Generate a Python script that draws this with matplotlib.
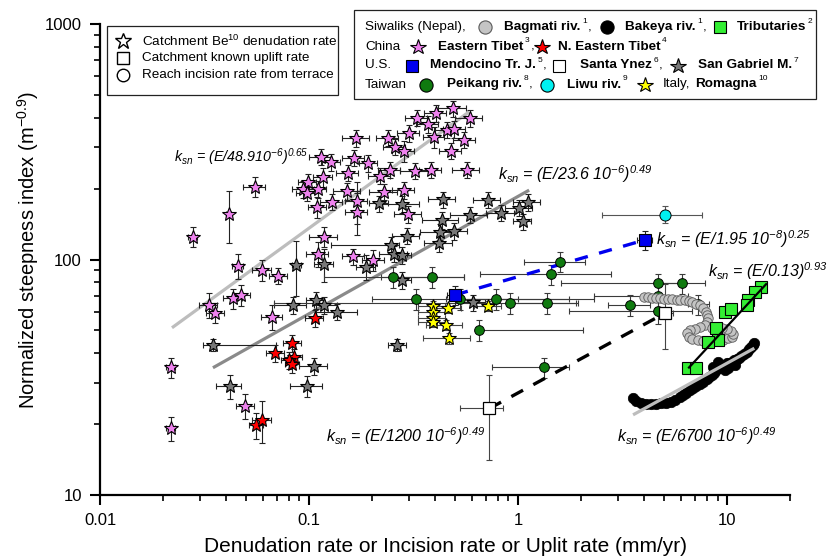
import numpy as np
import matplotlib
matplotlib.use('Agg')
import matplotlib.pyplot as plt
from matplotlib.lines import Line2D
from matplotlib.patches import Rectangle
from matplotlib import ticker

plt.rcParams['font.family'] = ['Liberation Sans', 'DejaVu Sans']
plt.rcParams['mathtext.fontset'] = 'custom'
plt.rcParams['mathtext.rm'] = 'Liberation Sans'
plt.rcParams['mathtext.it'] = 'Liberation Sans:italic'
plt.rcParams['mathtext.bf'] = 'Liberation Sans:bold'
plt.rcParams['mathtext.default'] = 'regular'

# ---------------- data ----------------
# Eastern Tibet (pink stars)
pink_x = [0.0278,0.0412,0.055,0.0456,0.0596,0.0712, 0.1136,0.128,0.1165,0.0987,0.0938,0.0981,0.110,0.1095,0.1286,0.1525,
          0.1684,0.164,0.1923,0.1535,0.169,0.169,0.2285,0.2178,0.2388,0.258, 0.1178,0.110,0.163,0.2032,
          0.4895,0.4044,0.328,0.369,0.5866,0.4565,0.495,0.397,0.301,0.5527,0.477,
          0.285,0.244,0.3217,0.3826,0.5675,0.285,0.299, 0.0331,0.0356,0.0433,0.0475,0.0666,0.0218,0.0496,0.0218]
pink_y = [125,156,204,94.1,90.2,85.3, 273,259,223,213,199,192,199,167,176,195,
          327,271,256,234,177,159,194,227,329,301, 125,106,103,99.5,
          438,418,400,375,398,355,357,332,344,322,289,
          289,240,238,240,240,197,156, 64.1,59.5,68.4,70.7,57.2,34.8,23.9,19.2]
pink_xe = [0.05,0.03,0.12,0.06,0.1,0.1, 0.12,0.1,0.1,0.1,0.12,0.12,0.1,0.1,0.12,0.15,
           0.15,0.12,0.1,0.12,0.12,0.12,0.15,0.12,0.12,0.12, 0.15,0.12,0.12,0.12,
           0.15,0.12,0.12,0.12,0.15,0.12,0.12,0.12,0.12,0.12,0.12,
           0.12,0.12,0.15,0.12,0.15,0.12,0.15, 0.1,0.1,0.1,0.1,0.12,0.05,0.1,0.05]
pink_ye = [0.1,0.25,0.1,0.12,0.1,0.08, 0.08,0.08,0.1,0.08,0.08,0.08,0.08,0.1,0.08,0.08,
           0.08,0.08,0.08,0.08,0.2,0.2,0.08,0.08,0.08,0.08, 0.1,0.12,0.08,0.1,
           0.08,0.08,0.08,0.08,0.08,0.08,0.08,0.1,0.08,0.08,0.08,
           0.1,0.08,0.08,0.08,0.08,0.08,0.08, 0.12,0.1,0.1,0.1,0.12,0.1,0.12,0.12]

# San Gabriel M. (grey stars)
grey_x = [0.0347,0.0417,0.0840,0.1074,0.1178,0.1355,0.1055,0.098,0.265,0.0868,0.1178,0.1873,0.216,0.246,0.255,0.28,
          0.28,0.2935,0.28,0.424,0.432,0.4355,0.419,0.493,0.590,0.606,0.716,0.829,1.015,1.113,1.053]
grey_y = [43.4,29.0,64.1,67.3,64.1,60.0,35.3,29.0,43.4,94.8,95.4,93.2,173,115,106,104.5,
          172,126,81.8,131,147,180,117,132,155,65.7,179,158,166,175,145]
grey_xlo = [0.1,0.14,0.19,0.1,0.1,0.2,0.15,0.17,0.1,0.05,0.1,0.1,0.1,0.48,0.15,0.1,
            0.2,0.15,0.1,0.2,0.2,0.15,0.15,0.15,0.2,0.15,0.15,0.15,0.15,0.15,0.1]
grey_xhi = [1.0,0.13,0.15,0.1,0.15,0.25,0.15,0.18,0.1,0.05,0.1,0.1,0.1,0.1,0.15,0.1,
            0.2,0.15,0.1,0.2,0.2,0.15,0.15,0.15,0.2,0.15,0.15,0.15,0.15,0.15,0.1]
grey_ye = [0.06,0.12,0.08,0.08,0.08,0.08,0.08,0.1,0.06,0.26,0.16,0.12,0.08,0.08,0.08,0.08,
           0.08,0.08,0.08,0.08,0.08,0.08,0.08,0.08,0.08,0.08,0.08,0.08,0.08,0.08,0.08]

# N. Eastern Tibet (red stars)
red_x = [0.0691,0.0831,0.0846,0.080,0.0831,0.056,0.0596,0.1066]
red_y = [40.0,44.1,38.7,37.4,36.0,19.8,20.8,56.3]
red_xe = [0.1,0.1,0.1,0.08,0.08,0.08,0.1,0.1]
red_ye = [0.08,0.08,0.08,0.08,0.08,0.13,0.2,0.08]

# Romagna (yellow stars)
yel_x = [0.39,0.39,0.39,0.391,0.464,0.722,0.4515,0.4693]
yel_y = [63.5,59.6,56.3,54.3,62.1,63.5,52.7,46.3]
yel_xe = [0.15,0.15,0.15,0.15,0.15,0.15,0.2,0.25]
yel_ye = [0.05,0.05,0.05,0.05,0.05,0.05,0.05,0.05]

# Peikang riv. (green circles)
pk_x = [0.253,0.387,0.324,0.529,0.785,0.919,1.377,1.59,1.44,0.652,1.337,3.42,4.68,6.10,4.68,7.28,4.68]
pk_y = [84.5,84.5,68.0,68.0,68.0,65.2,65.2,97.9,86.5,50.2,34.8,64.1,79.2,79.2,70.0,64.5,60.4]
pk_xlo = [0.118,0.22,0.2,0.45,0.6,0.068,0.95,1.07,0.66,0.652,0.75,2.7,1.6,4.68,2.3,6.5,1.75]
pk_xhi = [0.55,0.55,1.0,2.3,1.75,1.94,1.9,2.1,2.77,2.04,1.75,4.3,6.0,7.8,6.5,8.2,6.8]
pk_ye = [0.1,0.1,0.1,0.1,0.1,0.1,0.1,0.1,0.1,0.1,0.1,0.1,0.1,0.1,0.1,0.1,0.12]

# Liwu riv. (cyan)
cy_x = [5.03]; cy_y = [155]; cy_xlo = [2.52]; cy_xhi = [7.55]; cy_ylo = [143]; cy_yhi = [168]

# Mendocino (blue squares)
bl_x = [0.499, 4.03]; bl_y = [70.7, 121]; bl_xe = [0.08, 0.08]; bl_ye = [0.09, 0.09]

# Santa Ynez (white squares)
wt_x = [0.729, 5.03]; wt_y = [23.3, 59.1]
wt_xlo = [0.53, 4.6]; wt_xhi = [0.85, 5.5]; wt_ylo = [14.1, 41.6]; wt_yhi = [32.3, 79.0]

# Tributaries (green squares)
trib_x = [14.6,13.6,12.6,12.5,9.76,10.4,8.81,9.07,8.13,6.52,7.14]
trib_y = [76.6,73.0,67.3,64.1,60.0,61.7,51.0,45.5,44.8,34.5,34.5]

# Bagmati riv. (grey circle chain)
bag_x = [4.02,4.20,4.39,4.59,4.80,5.01,5.24,5.48,5.73,5.98,6.26,6.54,6.83,7.14,7.42,7.67,7.89,8.02,8.11,8.06,
         7.80,7.46,7.06,6.68,6.46,6.54,6.83,7.22,7.63,8.06,8.52,9.00,9.51,10.06,10.5,10.7,10.4,9.95,9.41,8.90,8.43]
bag_y = [69.3,69.0,68.8,68.6,68.4,68.2,68.0,67.7,67.5,67.3,67.0,66.9,66.0,65.0,63.8,62.1,60.1,58.1,56.2,54.3,
         52.7,51.7,50.9,50.2,48.7,47.1,46.0,45.4,45.2,45.1,45.2,45.4,45.6,46.2,47.1,48.5,49.9,50.8,51.2,51.3,51.2]

# Bakeya riv. (black circle chain)
bak_x = [3.55,3.68,3.89,4.11,4.34,4.59,4.85,5.13,5.42,5.66,5.94,6.17,6.39,6.63,6.88,7.14,7.40,7.69,7.98,8.20,
         8.43,8.66,8.90,9.15,9.41,9.67,9.95,10.2,10.5,10.8,11.1,11.4,11.7,12.1,12.4,12.8,13.0,13.3,13.5,
         8.59,9.07,9.76,10.1,10.9]
bak_y = [25.7,25.1,24.7,24.4,24.3,24.3,24.5,24.7,24.9,25.4,26.0,26.6,27.2,27.8,28.4,29.0,29.6,30.3,31.0,31.7,
         32.3,33.1,34.0,34.6,35.3,35.8,36.2,36.5,36.8,37.3,37.7,38.3,38.9,39.7,40.6,41.5,42.4,43.2,44.1,
         35.1,36.8,34.0,34.5,35.6]

# fitted relations: end points (x0, y0, x1, y1)
fit_A = (0.0221, 51.3, 0.584, 424)    # (E/48.9e-6)^0.65
fit_B = (0.0347, 34.7, 1.13, 197)     # (E/23.6e-6)^0.49
fit_C = (0.499, 70.7, 4.03, 121)      # (E/1.95e-8)^0.25
fit_D = (6.52, 34.5, 15.5, 79.2)      # (E/0.13)^0.93
fit_E = (0.729, 23.3, 5.03, 59.1)     # (E/1200e-6)^0.49
fit_F = (3.55, 21.9, 13.5, 42.0)      # (E/6700e-6)^0.49

# ---------------- figure ----------------
W, H = 836, 558
fig = plt.figure(figsize=(W/100, H/100), dpi=100)
ax = fig.add_axes([100/W, 1-495/H, 690/W, 471/H])
ax.set_xscale('log'); ax.set_yscale('log')
ax.set_xlim(0.01, 20); ax.set_ylim(10, 1000)
for s in ['top', 'right']:
    ax.spines[s].set_visible(False)
for s in ['left', 'bottom']:
    ax.spines[s].set_linewidth(1.6)
ax.tick_params(which='major', length=7.5, width=1.5, direction='out', labelsize=12, pad=5.5)
ax.tick_params(which='minor', length=4, width=1.2, direction='out')
fmt = ticker.FuncFormatter(lambda v, p: f'{v:g}')
ax.xaxis.set_major_formatter(fmt); ax.yaxis.set_major_formatter(fmt)
ax.xaxis.set_minor_formatter(ticker.NullFormatter()); ax.yaxis.set_minor_formatter(ticker.NullFormatter())

def fline(p, **kw):
    ax.plot([p[0], p[2]], [p[1], p[3]], solid_capstyle='butt', **kw)

def eb_frac(x, y, xlo, xhi, ylo, yhi, color='k', z=2):
    x = np.asarray(x, float); y = np.asarray(y, float)
    ax.errorbar(x, y, xerr=[x*np.asarray(xlo), x*np.asarray(xhi)],
                yerr=[y*np.asarray(ylo), y*np.asarray(yhi)], fmt='none', ecolor=color,
                elinewidth=0.8, capsize=2.5, capthick=0.8, zorder=z)

def eb_abs(x, y, xlo, xhi, ylo, yhi, color='k', z=2):
    x = np.asarray(x, float); y = np.asarray(y, float)
    xe = [np.clip(x-np.asarray(xlo), 0, None), np.clip(np.asarray(xhi)-x, 0, None)]
    ye = [np.clip(y-np.asarray(ylo), 0, None), np.clip(np.asarray(yhi)-y, 0, None)]
    ax.errorbar(x, y, xerr=xe, yerr=ye, fmt='none', ecolor=color,
                elinewidth=0.8, capsize=2.5, capthick=0.8, zorder=z)

# lines behind the stars
fline(fit_A, color='#bdbdbd', lw=2.3, zorder=1.5)
fline(fit_B, color='#8a8a8a', lw=2.3, zorder=1.5)

# error bars
eb_frac(pink_x, pink_y, pink_xe, pink_xe, pink_ye, pink_ye, color='#222222')
eb_frac(grey_x, grey_y, grey_xlo, grey_xhi, grey_ye, grey_ye, color='#222222')
eb_frac(red_x, red_y, red_xe, red_xe, red_ye, red_ye, color='#222222')
eb_frac(yel_x, yel_y, yel_xe, yel_xe, yel_ye, yel_ye, color='#444444')
pk_ylo = [y*(1-e) for y, e in zip(pk_y, pk_ye)]
pk_yhi = [y*(1+e) for y, e in zip(pk_y, pk_ye)]
eb_abs(pk_x, pk_y, pk_xlo, pk_xhi, pk_ylo, pk_yhi, color='#3a3a3a')
eb_abs(cy_x, cy_y, cy_xlo, cy_xhi, cy_ylo, cy_yhi, color='#555555')
eb_frac(bl_x, bl_y, bl_xe, bl_xe, bl_ye, bl_ye, color='#222222')
eb_abs(wt_x, wt_y, wt_xlo, wt_xhi, wt_ylo, wt_yhi, color='#444444')

# dashed relations
fline(fit_C, color='#0000ee', lw=2.4, ls=(0, (4, 3.5)), zorder=3)
fline(fit_E, color='k', lw=2.4, ls=(0, (4, 3.5)), zorder=3)

star = dict(ls='none', marker='*', ms=10.5, mec='k', mew=0.8, zorder=4)
ax.plot(pink_x, pink_y, mfc='#ee82ee', **star)
ax.plot(grey_x, grey_y, mfc='#787878', **star)
ax.plot(red_x, red_y, mfc='#ff0000', **star)
ax.plot(yel_x, yel_y, mfc='#ffff00', **star)
ax.plot(pk_x, pk_y, ls='none', marker='o', ms=7, mfc='#0f7a0f', mec='k', mew=0.7, zorder=4)
ax.plot(cy_x, cy_y, ls='none', marker='o', ms=8, mfc='#00f0f0', mec='k', mew=0.7, zorder=4)
ax.plot(bag_x, bag_y, ls='none', marker='o', ms=6.8, mfc='#c4c4c4', mec='#5a5a5a', mew=0.6, zorder=4.5)
ax.plot(bak_x, bak_y, ls='none', marker='o', ms=7.5, mfc='k', mec='k', mew=0.5, zorder=4.5)
ax.plot(trib_x, trib_y, ls='none', marker='s', ms=9, mfc='#33ee33', mec='k', mew=0.8, zorder=5)
ax.plot(bl_x, bl_y, ls='none', marker='s', ms=9, mfc='#0000ee', mec='k', mew=0.8, zorder=5)
ax.plot(wt_x, wt_y, ls='none', marker='s', ms=9, mfc='white', mec='k', mew=0.9, zorder=5)

# lines over markers
fline(fit_D, color='k', lw=1.6, zorder=6)
fline(fit_F, color='#bdbdbd', lw=2.3, zorder=6)

# ---------------- texts ----------------
def ftxt(x, y, s, **kw):
    return fig.text(x/W, 1-y/H, s, **kw)

eqkw = dict(fontstyle='italic', ha='left', va='baseline')
ftxt(174, 162.5, r'$k_{sn}$ = (E/48.910$^{-6}$)$^{0.65}$', fontsize=10.3, **eqkw)
ftxt(498, 180, r'$k_{sn}$ = (E/23.6 10$^{-6}$)$^{0.49}$', fontsize=11.5, **eqkw)
ftxt(656, 244.5, r'$k_{sn}$ = (E/1.95 10$^{-8}$)$^{0.25}$', fontsize=11.5, **eqkw)
ftxt(708, 277.5, r'$k_{sn}$ = (E/0.13)$^{0.93}$', fontsize=11.5, **eqkw)
ftxt(326, 442, r'$k_{sn}$ = (E/1200 10$^{-6}$)$^{0.49}$', fontsize=11.5, **eqkw)
ftxt(617, 442, r'$k_{sn}$ = (E/6700 10$^{-6}$)$^{0.49}$', fontsize=11.5, **eqkw)

ftxt(445, 546, 'Denudation rate or Incision rate or Uplit rate (mm/yr)', fontsize=15, ha='center', va='center')
ftxt(28, 250, r'Normalized steepness index (m$^{-0.9}$)', fontsize=14.5, ha='center', va='center', rotation=90)

# ---------------- legend boxes ----------------
def box(x0, y0, x1, y1):
    fig.add_artist(Rectangle((x0/W, 1-y1/H), (x1-x0)/W, (y1-y0)/H, transform=fig.transFigure,
                             fill=True, facecolor='white', edgecolor='#222222', lw=0.9, zorder=10))

def mk(x, y, m, fc, ec, ms, mew=0.8):
    fig.add_artist(Line2D([x/W], [1-y/H], transform=fig.transFigure, marker=m, ms=ms, mfc=fc,
                          mec=ec, mew=mew, ls='none', zorder=11))

box(107, 26, 338, 95)
mk(123, 41, '*', 'white', 'k', 12, 1.0)
mk(123, 58, 's', 'white', 'k', 8.5, 1.0)
mk(123, 75, 'o', 'white', 'k', 9, 1.0)
lkw = dict(fontsize=9.7, ha='left', va='center', zorder=11)
ftxt(142, 41, r'Catchment Be$^{10}$ denudation rate', **lkw)
ftxt(142, 58, 'Catchment known uplift rate', **lkw)
ftxt(142, 75, 'Reach incision rate from terrace', **lkw)

box(354, 10, 816, 99)
fig.canvas.draw()
R = fig.canvas.get_renderer()

def row(y, items):
    cur = None
    for it in items:
        kind = it[0]
        if kind == 't':
            x = it[3] if it[3] is not None else cur + 1
            t = ftxt(x, y, it[1], fontsize=9.7, fontweight=it[2], ha='left', va='center', zorder=11)
            cur = t.get_window_extent(renderer=R).x1
        elif kind == 's':
            t = ftxt(cur + 1.5, y - 5.5, it[1], fontsize=6, ha='left', va='center', zorder=11)
            cur = t.get_window_extent(renderer=R).x1
        elif kind == 'm':
            mk(it[4], y, it[1], it[2], it[3], it[5])

row(27, [('t', 'Siwaliks (Nepal),', 'normal', 365),
         ('m', 'o', '#c4c4c4', '#5a5a5a', 485, 9.5),
         ('t', 'Bagmati riv.', 'bold', 504), ('s', '1'), ('t', ',', 'normal', None),
         ('m', 'o', 'k', 'k', 607, 9.5),
         ('t', 'Bakeya riv.', 'bold', 625), ('s', '1'), ('t', ',', 'normal', None),
         ('m', 's', '#33ee33', 'k', 720, 8),
         ('t', 'Tributaries', 'bold', 737), ('s', '2')])
row(46.5, [('t', 'China', 'normal', 365),
           ('m', '*', '#ee82ee', 'k', 418, 11.5),
           ('t', 'Eastern Tibet', 'bold', 438), ('s', '3'), ('t', ',', 'normal', None),
           ('m', '*', '#ff0000', 'k', 542, 11.5),
           ('t', 'N. Eastern Tibet', 'bold', 558), ('s', '4')])
row(65.5, [('t', 'U.S.', 'normal', 365),
           ('m', 's', '#0000ee', 'k', 412, 8),
           ('t', 'Mendocino Tr. J.', 'bold', 430), ('s', '5'), ('t', ',', 'normal', None),
           ('m', 's', 'white', 'k', 559, 8),
           ('t', 'Santa Ynez', 'bold', 580), ('s', '6'), ('t', ',', 'normal', None),
           ('m', '*', '#787878', 'k', 678, 11.5),
           ('t', 'San Gabriel M.', 'bold', 698), ('s', '7')])
row(84.5, [('t', 'Taiwan', 'normal', 365),
           ('m', 'o', '#0f7a0f', 'k', 426, 9.5),
           ('t', 'Peikang riv.', 'bold', 447), ('s', '8'), ('t', ',', 'normal', None),
           ('m', 'o', '#00f0f0', 'k', 547, 9.5),
           ('t', 'Liwu riv.', 'bold', 567), ('s', '9'),
           ('m', '*', '#ffff00', 'k', 645, 11.5),
           ('t', 'Italy,', 'normal', 663), ('t', 'Romagna', 'bold', 695), ('s', '10')])

fig.savefig('out.png', dpi=100)
